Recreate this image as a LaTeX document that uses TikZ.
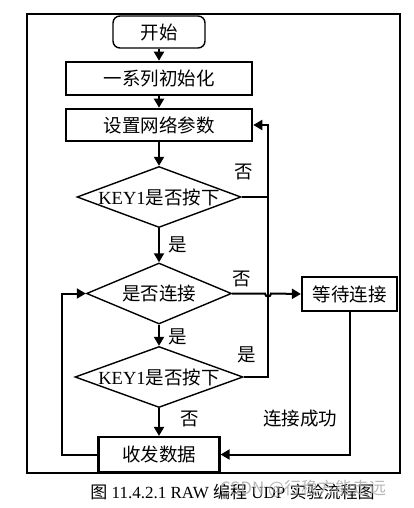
\documentclass[tikz,border=0pt]{standalone}
\usepackage{fontspec}
\setmainfont{Liberation Serif}
\newfontfamily\cjk{Noto Sans CJK SC}
\usetikzlibrary{shapes.geometric,arrows.meta}
\begin{document}
\begin{tikzpicture}[x=1pt,y=-1pt,
  txt/.style={font=\fontsize{18.5}{20}\selectfont\cjk},
  procbox/.style={draw,line width=2.6pt,inner sep=0pt,txt},
  startbox/.style={draw,line width=1.4pt,rounded corners=7pt,inner sep=0pt,txt},
  decision/.style={draw,diamond,line width=1.4pt,inner sep=0pt},
  conn/.style={line width=2pt},
  arr/.style={conn,-{Triangle[length=9pt,width=10pt]}},
  lab/.style={font=\fontsize{18.5}{20}\selectfont\cjk,inner sep=0pt}]
\useasboundingbox (0,0) rectangle (414,508);
\draw[line width=1.6pt] (27,14) rectangle (400,473);

\node[startbox,minimum width=92pt,minimum height=32pt] (start) at (159,32) {开始};
\node[procbox,minimum width=186pt,minimum height=33pt] (init) at (159,78.5) {一系列初始化};
\node[procbox,minimum width=186pt,minimum height=32pt] (params) at (159,125) {设置网络参数};
\node[decision,minimum width=164pt,minimum height=61pt,
  label={[inner sep=0pt,font=\fontsize{18.5}{20}\selectfont]center:KEY1{\cjk 是否按下}}] (d1) at (159,197) {};
\node[decision,minimum width=145pt,minimum height=61pt,
  label={[inner sep=0pt,txt]center:是否连接}] (d2) at (159,293.5) {};
\node[procbox,line width=2.2pt,minimum width=95pt,minimum height=34pt] (wait) at (349.5,294) {等待连接};
\node[decision,minimum width=168pt,minimum height=61pt,
  label={[inner sep=0pt,font=\fontsize{18.5}{20}\selectfont]center:KEY1{\cjk 是否按下}}] (d3) at (159,377) {};
\node[procbox,line width=2.2pt,minimum width=121pt,minimum height=35pt] (recv) at (159,454.5) {收发数据};

\coordinate (busx) at (268,0);
\coordinate (loopx) at (62,0);

\draw[arr] (start) -- (init);
\draw[arr] (init) -- (params);
\draw[arr] (params) -- (d1.north);
\draw[arr] (d1.south) -- (d2.north);
\draw[arr] (d2.south) -- (d3.north);
\draw[arr] (d3.south) -- (recv.north);

\draw[conn] (d1.east) -- (busx |- d1.east);
\draw[arr] (d3.east) -- (busx |- d3.east) -- (busx |- params.east) -- (params.east);

\coordinate (hopa) at ([xshift=-3pt]busx |- d2.east);
\coordinate (hopb) at ([xshift=3pt]busx |- d2.east);
\draw[arr] (d2.east) -- (hopa) .. controls ([yshift=-4pt]hopa) and ([yshift=-4pt]hopb) .. (hopb) -- (wait.west);

\draw[arr] (wait.south) -- (wait.south |- recv.east) -- (recv.east);
\draw[arr] (recv.west) -- (loopx |- recv.west) -- (loopx |- d2.west) -- (d2.west);

\node[lab] (l1) at (244,172) {否};
\node[lab] (l2) at (178,245) {是};
\node[lab] (l3) at (242,279) {否};
\node[lab] (l4) at (178,337) {是};
\node[lab] (l5) at (247,355) {是};
\node[lab] (l6) at (190,419) {否};
\node[lab] (l7) at (300,419) {连接成功};

\node[inner sep=0pt,font=\fontsize{17}{18}\selectfont] (cap) at (232.5,492) {{\cjk 图} 11.4.2.1 RAW {\cjk 编程} UDP {\cjk 实验流程图}};
\node[inner sep=0pt,text=black!35,opacity=0.8,font=\fontsize{17}{18}\selectfont\cjk] (wm) at (303,489) {CSDN @行稳方能走远};
\end{tikzpicture}
\end{document}
